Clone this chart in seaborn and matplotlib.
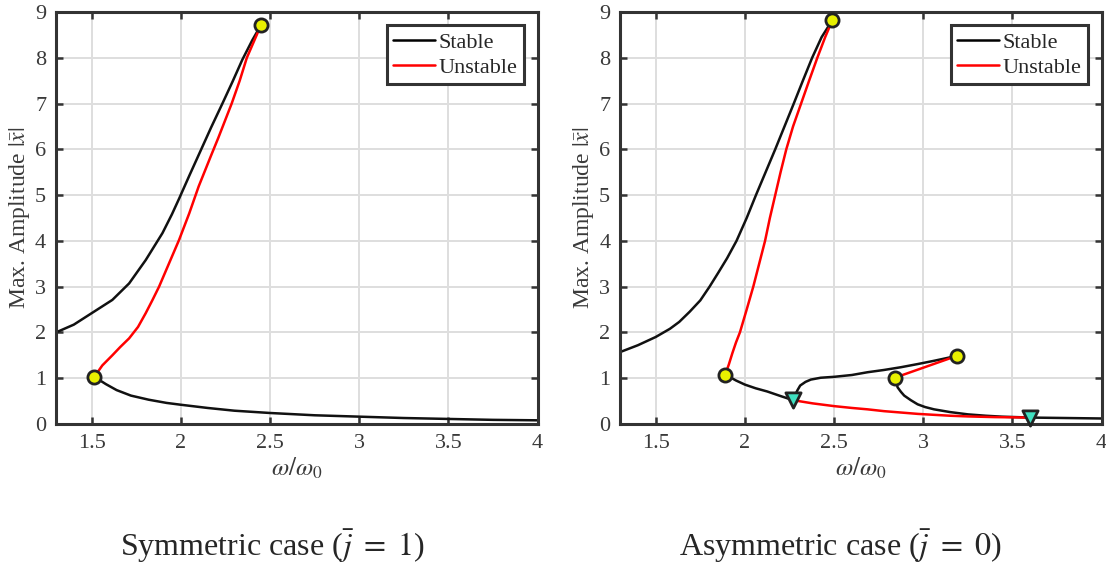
import pandas as pd
import matplotlib
matplotlib.use("Agg")
import matplotlib.pyplot as plt
import seaborn as sns
from matplotlib.lines import Line2D

# ---- symmetric case (left panel) ----
sym_stable_up_x = [1.30, 1.40, 1.50, 1.616, 1.71, 1.803, 1.897, 1.95, 1.99, 2.047, 2.112, 2.17,
                   2.233, 2.29, 2.345, 2.40, 2.45]
sym_stable_up_y = [2.00, 2.17, 2.42, 2.71, 3.07, 3.58, 4.17, 4.58, 4.92, 5.42, 5.98, 6.48,
                   7.00, 7.48, 7.96, 8.38, 8.72]
sym_unstable_x = [1.515, 1.56, 1.616, 1.66, 1.71, 1.76, 1.803, 1.84, 1.878, 1.934, 1.99, 2.047,
                  2.10, 2.168, 2.21, 2.25, 2.285, 2.33, 2.37, 2.42, 2.45]
sym_unstable_y = [1.03, 1.28, 1.50, 1.68, 1.87, 2.12, 2.42, 2.70, 3.00, 3.51, 4.02, 4.60,
                  5.19, 5.85, 6.25, 6.65, 7.00, 7.50, 8.00, 8.45, 8.72]
sym_stable_low_x = [1.515, 1.58, 1.64, 1.72, 1.82, 1.92, 2.00, 2.15, 2.30, 2.50, 2.75, 3.00,
                    3.25, 3.50, 3.75, 4.00]
sym_stable_low_y = [1.03, 0.87, 0.74, 0.62, 0.53, 0.46, 0.42, 0.35, 0.29, 0.24, 0.19, 0.16,
                    0.13, 0.11, 0.09, 0.08]
sym_fold_x = [1.515, 2.45]
sym_fold_y = [1.03, 8.72]

# ---- asymmetric case (right panel) ----
asy_stable_up_x = [1.30, 1.40, 1.50, 1.58, 1.632, 1.69, 1.75, 1.802, 1.85, 1.90, 1.953, 2.01,
                   2.062, 2.116, 2.170, 2.222, 2.274, 2.325, 2.377, 2.43, 2.49]
asy_stable_up_y = [1.57, 1.72, 1.90, 2.08, 2.23, 2.45, 2.70, 3.00, 3.30, 3.62, 4.00, 4.50,
                   5.00, 5.50, 6.00, 6.50, 7.00, 7.50, 8.00, 8.45, 8.82]
asy_unstable_up_x = [1.89, 1.91, 1.93, 1.95, 1.972, 2.01, 2.047, 2.08, 2.113, 2.14, 2.17, 2.20,
                     2.232, 2.27, 2.315, 2.36, 2.406, 2.45, 2.49]
asy_unstable_up_y = [1.08, 1.30, 1.55, 1.78, 2.00, 2.50, 3.00, 3.50, 4.00, 4.50, 5.00, 5.50,
                     6.00, 6.50, 7.00, 7.50, 8.00, 8.45, 8.82]
asy_stable_low1_x = [1.89, 1.95, 2.00, 2.06, 2.125, 2.20, 2.27]
asy_stable_low1_y = [1.08, 0.95, 0.86, 0.78, 0.71, 0.61, 0.52]
asy_stable_mid_x = [2.27, 2.28, 2.295, 2.31, 2.34, 2.37, 2.425, 2.50, 2.60, 2.687, 2.78, 2.875,
                    2.97, 3.06, 3.12, 3.19]
asy_stable_mid_y = [0.52, 0.62, 0.74, 0.84, 0.92, 0.97, 1.01, 1.03, 1.07, 1.13, 1.18, 1.24,
                    1.31, 1.38, 1.43, 1.49]
asy_unstable_mid_x = [2.84, 3.19]
asy_unstable_mid_y = [1.01, 1.49]
asy_stable_low2_x = [2.84, 2.85, 2.856, 2.875, 2.893, 2.93, 2.968, 3.01, 3.06, 3.15, 3.25, 3.35,
                     3.44, 3.60, 3.80, 4.00]
asy_stable_low2_y = [1.01, 0.90, 0.80, 0.70, 0.62, 0.52, 0.43, 0.37, 0.32, 0.26, 0.21, 0.18,
                     0.16, 0.14, 0.13, 0.12]
asy_unstable_low_x = [2.27, 2.38, 2.50, 2.60, 2.687, 2.78, 2.875, 2.97, 3.06, 3.15, 3.25, 3.40,
                      3.60]
asy_unstable_low_y = [0.52, 0.45, 0.39, 0.35, 0.32, 0.28, 0.25, 0.22, 0.20, 0.18, 0.165, 0.15,
                      0.14]
asy_fold_x = [1.89, 2.49, 2.84, 3.19]
asy_fold_y = [1.08, 8.82, 1.01, 1.49]
asy_branch_x = [2.27, 3.60]
asy_branch_y = [0.52, 0.14]

captions = [r"Symmetric case ($\bar{j}\ =\ 1$)", r"Asymmetric case ($\bar{j}\ =\ 0$)"]

sns.set_theme(style="whitegrid")
plt.rcParams["font.family"] = ["Liberation Serif", "DejaVu Serif"]
plt.rcParams["mathtext.fontset"] = "stix"

edge = "#333333"
fig = plt.figure(figsize=(11.06, 5.65), dpi=100)
ax1 = fig.add_axes([0.0506, 0.2496, 0.4355, 0.7292])
ax2 = fig.add_axes([0.5606, 0.2496, 0.4355, 0.7292])


def curve(ax, xs, ys, color):
    df = pd.DataFrame({"x": xs, "y": ys})
    sns.lineplot(data=df, x="x", y="y", sort=False, estimator=None,
                 color=color, linewidth=1.8, ax=ax)


def style(ax):
    ax.set_xlim(1.3, 4)
    ax.set_ylim(0, 9)
    ax.set_xticks([1.5, 2, 2.5, 3, 3.5, 4])
    ax.set_xticklabels(["1.5", "2", "2.5", "3", "3.5", "4"])
    ax.set_yticks(range(10))
    ax.set_facecolor("white")
    ax.grid(True, color="#dedede", linewidth=1.4)
    for s in ax.spines.values():
        s.set_visible(True)
        s.set_color(edge)
        s.set_linewidth(2.2)
    ax.tick_params(direction="in", length=5, width=1.8, color=edge,
                   labelcolor="#3a3a3a", labelsize=16, top=True, right=True,
                   left=True, bottom=True, pad=7)
    ax.set_xlabel(r"$\omega/\omega_0$", fontsize=18, color="#3a3a3a", labelpad=2)
    ax.set_ylabel(r"Max. Amplitude $|\bar{x}|$", fontsize=17, color="#3a3a3a", labelpad=2)
    handles = [Line2D([], [], color="black", lw=1.8),
               Line2D([], [], color="red", lw=1.8)]
    leg = ax.legend(handles, ["Stable", "Unstable"], loc="upper right",
                    fontsize=16, fancybox=False, framealpha=1,
                    borderpad=0.3, handlelength=1.9, handletextpad=0.15,
                    labelspacing=0.2, borderaxespad=0.6)
    leg.get_frame().set_edgecolor(edge)
    leg.get_frame().set_linewidth(2.2)


def markers(ax, xs, ys, color, marker, size):
    sns.scatterplot(x=xs, y=ys, color=color, marker=marker, s=size,
                    edgecolor="#222222", linewidth=2, zorder=5, ax=ax, clip_on=False)


# left panel
curve(ax1, sym_stable_up_x, sym_stable_up_y, "#111111")
curve(ax1, sym_unstable_x, sym_unstable_y, "red")
curve(ax1, sym_stable_low_x, sym_stable_low_y, "#111111")
markers(ax1, sym_fold_x, sym_fold_y, "#e8f000", "o", 90)
style(ax1)

# right panel
curve(ax2, asy_stable_up_x, asy_stable_up_y, "#111111")
curve(ax2, asy_unstable_up_x, asy_unstable_up_y, "red")
curve(ax2, asy_stable_low1_x, asy_stable_low1_y, "#111111")
curve(ax2, asy_stable_mid_x, asy_stable_mid_y, "#111111")
curve(ax2, asy_stable_low2_x, asy_stable_low2_y, "#111111")
curve(ax2, asy_unstable_low_x, asy_unstable_low_y, "red")
curve(ax2, asy_unstable_mid_x, asy_unstable_mid_y, "red")
markers(ax2, asy_fold_x, asy_fold_y, "#e8f000", "o", 90)
markers(ax2, asy_branch_x, asy_branch_y, "#40e0c0", "v", 120)
style(ax2)

fig.text(0.246, 0.033, captions[0], ha="center", va="center", fontsize=23)
fig.text(0.760, 0.033, captions[1], ha="center", va="center", fontsize=23)

fig.savefig("out.png", dpi=100)
